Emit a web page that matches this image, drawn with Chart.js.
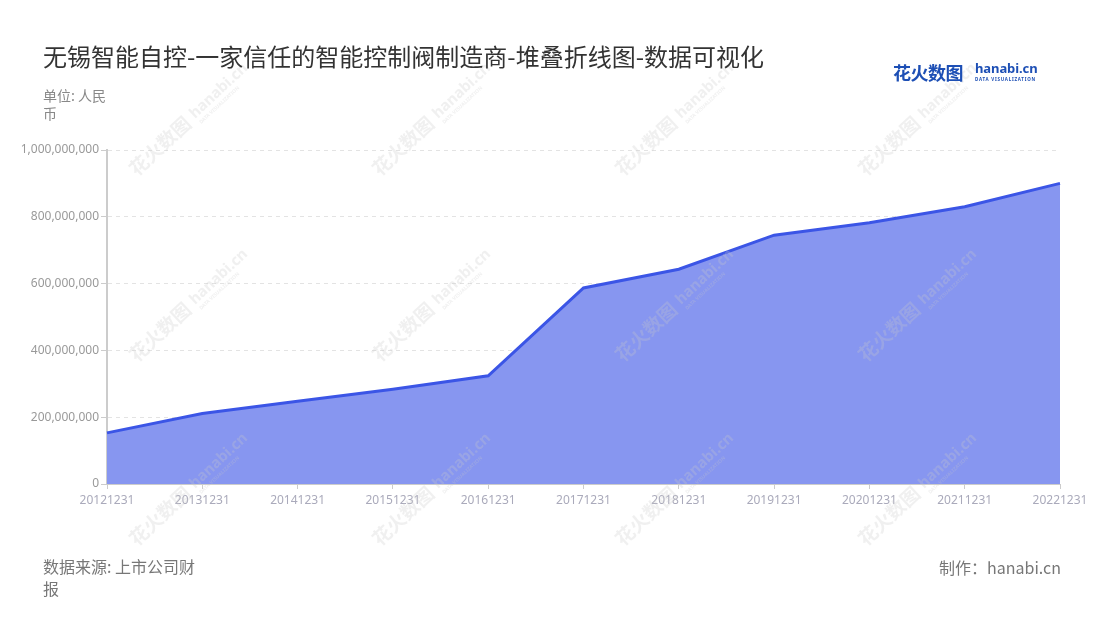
<!DOCTYPE html>
<html>
<head>
<meta charset="utf-8">
<script src="https://cdn.jsdelivr.net/npm/chart.js@4"></script>
<style>
  html, body { margin:0; padding:0; background:#fff; }
  body { width:1100px; height:620px; position:relative; overflow:hidden;
         font-family:"Noto Sans","Noto Sans CJK SC",sans-serif; }
  #c { position:absolute; left:0; top:0; }
  .title { position:absolute; left:43px; top:38px; font-size:24px; color:#333;
           font-family:"Noto Sans CJK SC","Noto Sans",sans-serif; white-space:nowrap; }
  .unit { position:absolute; left:43px; top:86px; width:70px; font-size:14px; line-height:18px; color:#888;
          font-family:"Noto Sans CJK SC","Noto Sans",sans-serif; }
  .source { position:absolute; left:43px; top:555px; width:160px; font-size:16px; line-height:22px; color:#777;
            font-family:"Noto Sans CJK SC","Noto Sans",sans-serif; }
  .maker { position:absolute; right:39px; top:555px; font-size:16px; color:#777;
           font-family:"Noto Sans CJK SC","Noto Sans",sans-serif; white-space:nowrap; }
  .logo { position:absolute; left:893px; top:59px; color:#1d4fb5; white-space:nowrap; }
  .logo .cn { font-family:"Noto Sans CJK SC",sans-serif; font-weight:700; font-size:18px; letter-spacing:-0.5px; vertical-align:top; }
  .logo .en { display:inline-block; vertical-align:top; margin-left:12px; line-height:1; }
  .logo .en .a { font-family:"Noto Sans",sans-serif; font-weight:700; font-size:13px; letter-spacing:-0.1px; display:block; margin-top:3px; }
  .logo .en .b { font-family:"Noto Sans",sans-serif; font-weight:700; font-size:4.5px; letter-spacing:0.75px; display:block; margin-top:2px; color:#1d4fb5; }
</style>
</head>
<body>
<canvas id="c" width="1100" height="620"></canvas>
<div class="title">无锡智能自控-一家信任的智能控制阀制造商-堆叠折线图-数据可视化</div>
<div class="unit">单位: 人民币</div>
<div class="source">数据来源: 上市公司财报</div>
<div class="maker">制作：hanabi.cn</div>
<div class="logo"><span class="cn">花火数图</span><span class="en"><span class="a">hanabi.cn</span><span class="b">DATA VISUALIZATION</span></span></div>
<script>
const categories = ["20121231","20131231","20141231","20151231","20161231","20171231","20181231","20191231","20201231","20211231","20221231"];
const seriesName = "无锡智能自控";
const seriesValues = [153000000, 211000000, 248000000, 284000000, 324000000, 587000000, 643000000, 745000000, 782000000, 830000000, 900000000];
const yTicks = [0, 200000000, 400000000, 600000000, 800000000, 1000000000];

const watermark = {
  id: 'watermark',
  afterDraw(chart) {
    const ctx = chart.ctx;
    const cols = [137, 380, 623, 866];
    const rows = [177, 363, 547];
    ctx.save();
    for (const x of cols) {
      for (const y of rows) {
        ctx.save();
        ctx.translate(x, y);
        ctx.rotate(-0.75);
        ctx.fillStyle = 'rgba(200,200,200,0.28)';
        ctx.font = '700 19px "Noto Sans CJK SC"';
        ctx.textBaseline = 'alphabetic';
        ctx.fillText('花火数图', 0, 0);
        ctx.font = '700 15px "Noto Sans"';
        ctx.fillText('hanabi.cn', 82, -3);
        ctx.font = '700 5px "Noto Sans"';
        ctx.fillText('DATA VISUALIZATION', 83, 5);
        ctx.restore();
      }
    }
    ctx.restore();
  }
};

new Chart(document.getElementById('c'), {
  type: 'line',
  data: {
    labels: categories,
    datasets: [{
      label: seriesName,
      data: seriesValues,
      borderColor: '#3b55e6',
      backgroundColor: '#8796f0',
      borderWidth: 3,
      fill: 'origin',
      tension: 0,
      pointRadius: 0,
      pointHoverRadius: 0
    }]
  },
  options: {
    responsive: false,
    animation: false,
    devicePixelRatio: 1,
    layout: { padding: { left: 0, right: 40, top: 150, bottom: 96 } },
    plugins: { legend: { display: false }, tooltip: { enabled: false }, title: { display: false } },
    scales: {
      x: {
        offset: false,
        grid: { drawOnChartArea: false, drawTicks: true, tickLength: 5, tickColor: '#ccc', tickWidth: 1 },
        border: { display: true, color: '#ccc', width: 1 },
        ticks: { color: '#aaaabb', font: { size: 12, family: '"Noto Sans"' }, padding: 4, maxRotation: 0, autoSkip: false },
        afterFit(s) { s.height = 40; s.paddingLeft = 0; s.paddingRight = 0; }
      },
      y: {
        min: 0, max: 1000000000,
        afterBuildTicks(s) { s.ticks = yTicks.map(v => ({ value: v })); },
        grid: { color: '#e3e3e3', lineWidth: 1, drawTicks: true, tickLength: 6, tickColor: '#ccc', tickBorderDash: [] },
        border: { display: true, color: '#ccc', width: 2, dash: [4, 4] },
        ticks: { color: '#999', font: { size: 12, family: '"Noto Sans"' }, padding: 2,
                 callback: v => v.toLocaleString('en-US') },
        afterFit(s) { s.width = 107; s.paddingTop = 0; s.paddingBottom = 0; }
      }
    }
  },
  plugins: [watermark]
});
</script>
</body>
</html>
